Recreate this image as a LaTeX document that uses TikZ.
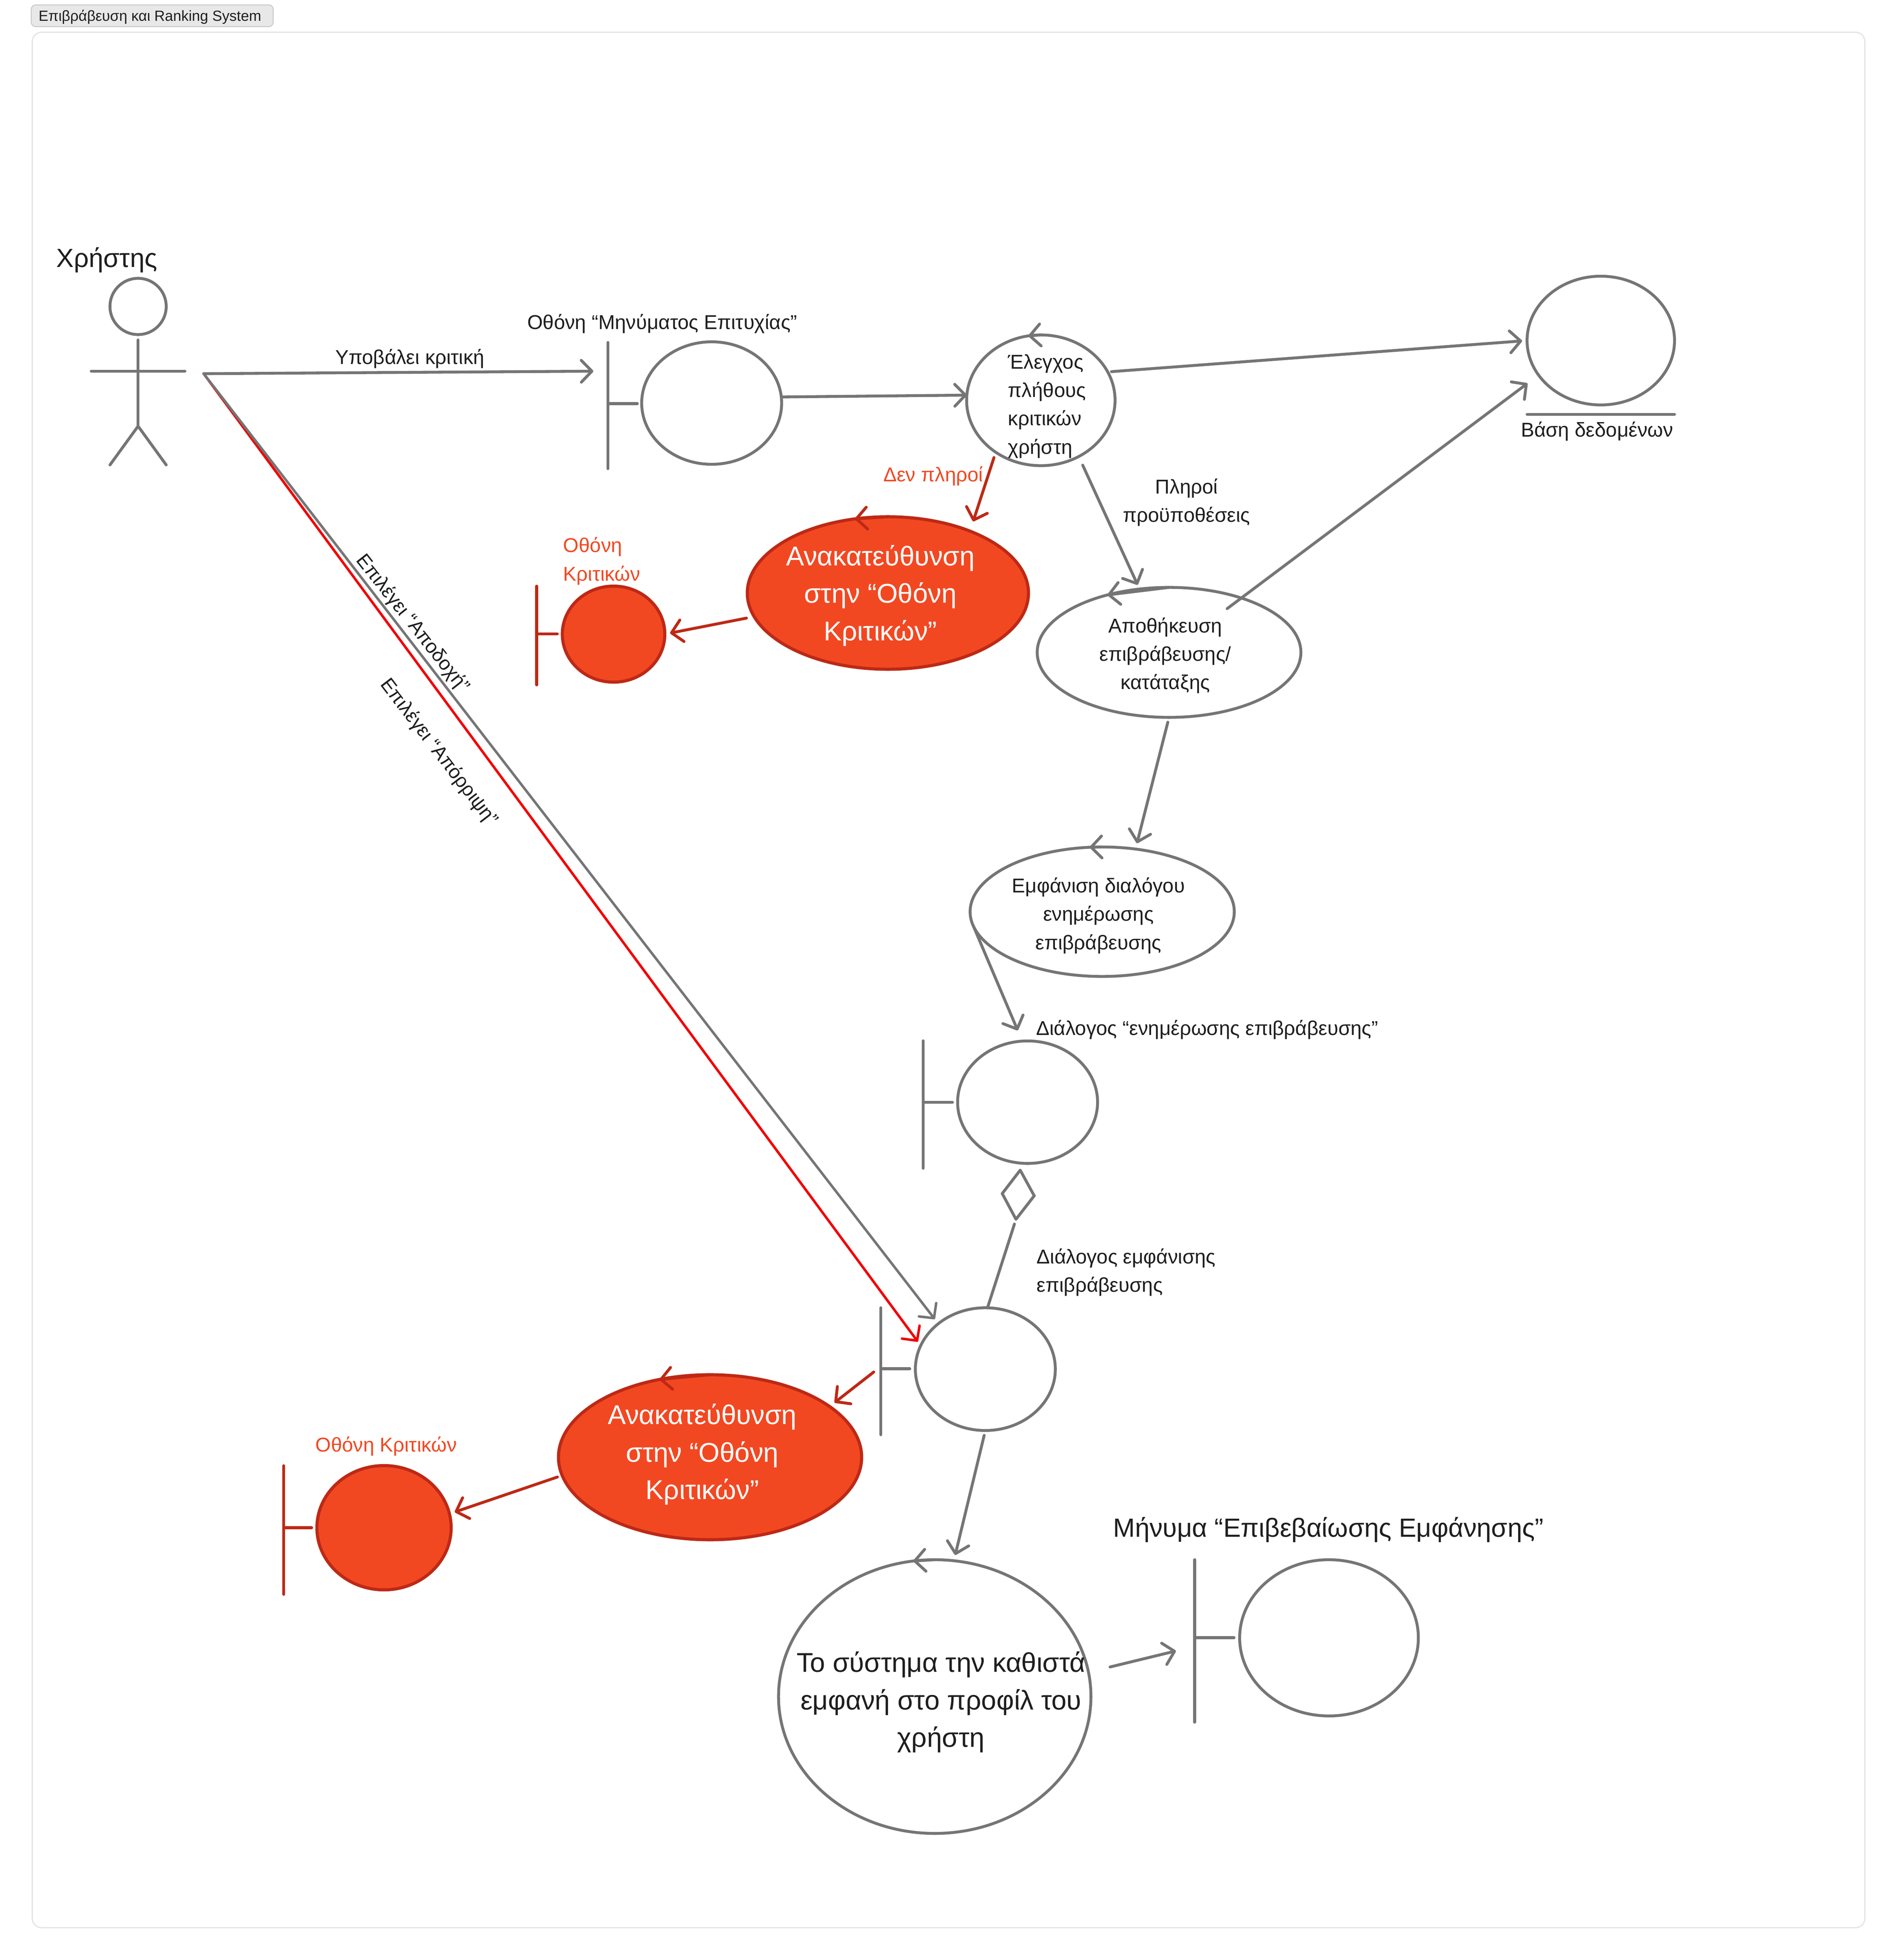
\documentclass[tikz,border=0pt]{standalone}
\usepackage{fontspec}
\setmainfont{Liberation Sans}
\usetikzlibrary{arrows.meta,shapes.geometric}
\definecolor{linegray}{HTML}{757575}
\definecolor{inkgray}{HTML}{1E1E1E}
\definecolor{redfill}{HTML}{F24822}
\definecolor{redline}{HTML}{BD2915}
\definecolor{purered}{HTML}{F00000}
\definecolor{framegray}{HTML}{E6E6E6}
\tikzset{
	stroke/.style={line width=2.3pt,color=linegray},
	redstroke/.style={line width=2.3pt,color=redline},
	blob/.style={ellipse,draw=linegray,line width=2.3pt,inner sep=0pt,outer sep=0pt,fill=white},
	redblob/.style={ellipse,draw=redline,line width=2.5pt,inner sep=0pt,outer sep=0pt,fill=redfill},
	small/.style={color=inkgray,inner sep=0pt,align=center,font=\fontsize{16}{22.7}\selectfont},
	slanted/.style={small,font=\fontsize{15.6}{22.7}\selectfont},
	redsmall/.style={small,color=redfill},
	big/.style={color=inkgray,inner sep=0pt,align=center,font=\fontsize{21}{30}\selectfont},
	inbig/.style={big,font=\fontsize{21.7}{30}\selectfont},
	whitebig/.style={inbig,color=white}
}
\begin{document}
\begin{tikzpicture}[line cap=round,line join=round,x=1pt,y=-1pt,>={Straight Barb[length=8.5pt,width=17.5pt,round]}]
	\useasboundingbox (0,0) rectangle (1518,1568.3);
	% frame and tab
	\draw [color=framegray,line width=1.05pt,rounded corners=7.5pt] (25.8,25.8) rectangle (1492.3,1542.4);
	\node (tab) at (121.8,12.6) [draw=black!22,fill=black!9,line width=.7pt,rounded corners=3.5pt,minimum width=193.6pt,minimum height=17.4pt,inner sep=0pt] {};
	\node (tabtext) at (120,13.6) [color=inkgray,inner sep=0pt,font=\fontsize{11.75}{14}\selectfont] {Επιβράβευση και Ranking System};
	% actor
	\node (usertext) at (85.5,208) [big] {Χρήστης};
	\node (head) at (110.5,245.2) [blob,minimum width=45pt,minimum height=45pt] {};
	\draw [stroke] (110.5,272) -- (110.5,341);
	\draw [stroke] (73,297) -- (148,297);
	\draw [stroke] (88,372) -- (110.5,341) -- (133,372);
	\coordinate (hand) at (163,299);
	% boundary objects
	\draw [stroke] (486.5,274) -- (486.5,375);
	\draw [stroke] (486.5,323) -- (510,323);
	\node (success) at (569.5,322.5) [blob,minimum width=112pt,minimum height=98pt] {};
	\node (successtext) at (530,259) [small] {Οθόνη “Μηνύματος Επιτυχίας”};
	\coordinate (successin) at (474.8,297);
	\draw [stroke] (738.7,832.8) -- (738.7,934.8);
	\draw [stroke] (738.7,882) -- (762.2,882);
	\node (notice) at (822.3,881.9) [blob,minimum width=112pt,minimum height=98pt] {};
	\node (noticetext) at (966,823.8) [small] {Διάλογος “ενημέρωσης επιβράβευσης”};
	\draw [stroke] (704.9,1046.4) -- (704.9,1148);
	\draw [stroke] (704.9,1095.2) -- (728,1095.2);
	\node (show) at (788.5,1095.5) [blob,minimum width=112pt,minimum height=98.2pt] {};
	\node (showtext) at (829.4,1018) [small,anchor=west,align=left] {Διάλογος εμφάνισης\\επιβράβευσης};
	\coordinate (showout) at (699.2,1097.8);
	\draw [stroke] (956,1248) -- (956,1378);
	\draw [stroke] (956,1310.4) -- (987.5,1310.4);
	\node (msg) at (1063.5,1310.5) [blob,minimum width=143pt,minimum height=125pt] {};
	\node (msgtext) at (1063,1224) [big] {Μήνυμα “Επιβεβαίωσης Εμφάνησης”};
	\coordinate (msgin) at (941,1321);
	% red boundaries
	\draw [redstroke] (429.5,469) -- (429.5,548);
	\draw [redstroke] (429.5,507.2) -- (446,507.2);
	\node (fail) at (491,507.4) [redblob,minimum width=82pt,minimum height=76.8pt] {};
	\node (failtext) at (450.6,449) [redsmall,anchor=west,align=left] {Οθόνη\\Κριτικών};
	\draw [redstroke] (227,1172.8) -- (227,1275.7);
	\draw [redstroke] (227,1222.4) -- (249.4,1222.4);
	\node (failb) at (307.3,1222.4) [redblob,minimum width=107.4pt,minimum height=99.4pt] {};
	\node (failbtext) at (309,1157.3) [redsmall] {Οθόνη Κριτικών};
	% controls
	\node (check) at (832.9,320.3) [blob,minimum width=118.8pt,minimum height=104.6pt] {};
	\node (checktext) at (806.5,325) [small,anchor=west,align=left] {Έλεγχος\\πλήθους\\κριτικών\\χρήστη};
	\node (store) at (935.5,522) [blob,minimum width=211pt,minimum height=104pt] {};
	\node (storetext) at (932.5,524.5) [small] {Αποθήκευση\\επιβράβευσης/\\κατάταξης};
	\coordinate (storeout) at (982,487);
	\node (dialog) at (882,729.5) [blob,minimum width=211.4pt,minimum height=103.6pt] {};
	\node (dialogtext) at (879,732.6) [small] {Εμφάνιση διαλόγου\\ενημέρωσης\\επιβράβευσης};
	\node (final) at (748,1357.5) [blob,minimum width=250pt,minimum height=219pt] {};
	\node (finaltext) at (753,1362) [inbig] {Το σύστημα την καθιστά\\εμφανή στο προφίλ του\\χρήστη};
	\node (redir) at (710.5,474.5) [redblob,minimum width=225pt,minimum height=122pt] {};
	\node (redirtext) at (704.5,476.5) [whitebig] {Ανακατεύθυνση\\στην “Οθόνη\\Κριτικών”};
	\node (redirb) at (568.2,1166) [redblob,minimum width=242.6pt,minimum height=132pt] {};
	\node (redirbtext) at (562,1163.8) [whitebig] {Ανακατεύθυνση\\στην “Οθόνη\\Κριτικών”};
	% database
	\node (db) at (1281,272.5) [blob,minimum width=118pt,minimum height=103pt] {};
	\draw [stroke] (1222,331.5) -- (1340,331.5);
	\node (dbtext) at (1278,345) [small] {Βάση δεδομένων};
	% small arrows lying on the ellipses
	\draw [stroke,->] (check.north) -- (check.101.7);
	\draw [stroke,->] (store.north) -- (store.137.2);
	\draw [stroke,->] (dialog.north) -- (dialog.101.5);
	\draw [stroke,->] (final.north) -- (final.99.6);
	\draw [redstroke,->] (redir.north) -- (redir.114.6);
	\draw [redstroke,->] (redirb.north) -- (redirb.123.6);
	% diamond
	\coordinate (dianorth) at (816.4,936.3);
	\coordinate (diaeast) at (827.6,956.8);
	\coordinate (diasouth) at (813,975.6);
	\coordinate (diawest) at (802,955);
	\draw [stroke] (dianorth) -- (diaeast) -- (diasouth) -- (diawest) -- cycle;
	% connectors
	\draw [line width=2pt,color=purered,->,shorten >=3.9pt] (hand) -- (show.160.7);
	\draw [line width=2pt,color=linegray,->,shorten >=4.6pt] (hand) -- (show.136);
	\draw [stroke,->] (hand) -- (successin);
	\draw [stroke,->] (success.5.6) -- (check.176.8);
	\draw [stroke,->,shorten <=3pt,shorten >=4pt] (check.23.4) -- (db.180);
	\draw [stroke,->,shorten >=11.1pt] (storeout) -- (db.209.6);
	\draw [stroke,->,shorten <=7.6pt,shorten >=3.7pt] (check.-56.1) -- (store.115.3);
	\draw [redstroke,->,shorten <=4.5pt,shorten >=8.2pt] (check.229.8) -- (redir.37);
	\draw [redstroke,->,shorten <=6.3pt,shorten >=4.3pt] (redir.190.6) -- (fail.0.8);
	\draw [stroke,->,shorten <=4pt,shorten >=4.8pt] (store.south) -- (dialog.62.8);
	\draw [stroke,->,shorten >=9.3pt] (dialog.186.6) -- (notice.95.8);
	\draw [stroke,shorten <=4pt] (diasouth) -- (show.88.3);
	\draw [stroke,->,shorten <=4pt,shorten >=4.7pt] (show.south) -- (final.82.7);
	\draw [stroke,->,shorten <=17.8pt] (final.9.9) -- (msgin);
	\draw [redstroke,->,shorten >=5.1pt] (showout) -- (redirb.23.4);
	\draw [redstroke,->,shorten <=4pt,shorten >=4.5pt] (redirb.187.9) -- (failb.12.3);
	% connector labels
	\node (submit) at (328,287) [small] {Υποβάλει κριτική};
	\node (accept) at (330,499) [slanted,rotate=-51.7] {Επιλέγει “Αποδοχή”};
	\node (reject) at (351,602) [slanted,rotate=-52.5] {Επιλέγει “Απόρριψη”};
	\node (nofit) at (746.8,381) [redsmall] {Δεν πληροί};
	\node (fits) at (949.5,402) [small] {Πληροί\\προϋποθέσεις};
\end{tikzpicture}
\end{document}
